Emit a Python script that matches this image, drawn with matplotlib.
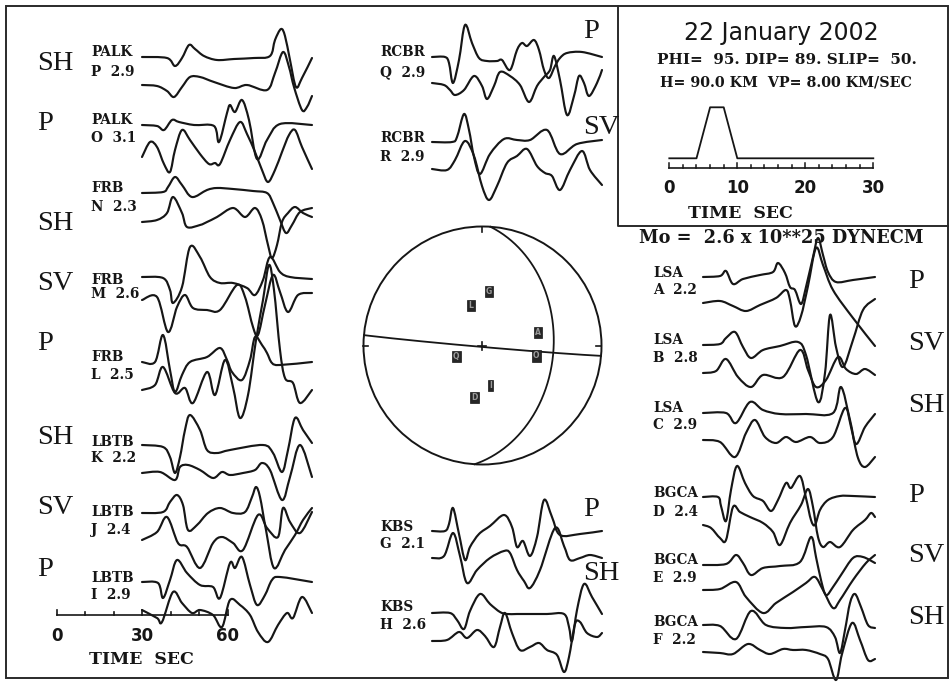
import numpy as np
import matplotlib.pyplot as plt
from matplotlib.path import Path
from matplotlib.patches import PathPatch, Rectangle, Circle

INK = '#161616'
W, H = 953, 682

# ---------------------------------------------------------------------------
# waveforms: (time, amplitude) pairs, time from trace start, amplitude up
# ---------------------------------------------------------------------------
PALK_P_OBS = [(0,0),(25,-1),(33,-9),(40,-1),(47,12),(53,8),(62,1),(75,-3),(92,-2),(112,-1),(128,1),(133,17),(139,28),(143,21),(148,-3),(154,-30),(160,-21),(170,-1)]
PALK_P_SYN = [(0,0),(15,-1),(25,-6),(32,-12),(40,-2),(48,8),(58,8),(72,3),(92,-3),(105,0),(125,-5),(133,12),(141,33),(147,18),(152,-2),(160,-25),(165,-22),(170,-11)]
PALK_O_OBS = [(0,0),(15,-1),(22,-5),(30,5),(37,3),(52,0),(72,-1),(77,-17),(85,12),(88,20),(93,13),(100,25),(107,5),(115,-34),(125,-15),(138,1),(170,0)]
PALK_O_SYN = [(0,0),(8,15),(15,10),(22,-7),(28,-15),(33,7),(40,27),(48,17),(58,3),(67,-7),(73,-6),(78,-7),(88,17),(98,35),(105,23),(113,5),(120,-13),(126,-25),(133,-13),(140,5),(147,22),(153,27),(160,10),(170,-12)]
FRB_N_OBS = [(0,0),(21,1),(26,6),(33,16),(40,8),(50,-4),(65,3),(75,5),(91,4),(111,2),(125,0),(131,-10),(138,-27),(144,-40),(150,-32),(158,-19),(170,-15)]
FRB_N_SYN = [(0,0),(15,2),(25,9),(31,25),(40,9),(45,-5),(58,-3),(65,0),(75,5),(91,14),(103,5),(113,14),(120,2),(126,-23),(130,-36),(135,-23),(140,0),(146,9),(153,15),(161,9),(170,5)]
FRB_M_OBS = [(0,0),(21,-1),(28,-13),(31,-26),(40,-10),(48,30),(58,20),(68,0),(78,-6),(91,-6),(105,-11),(113,-18),(121,-3),(128,20),(138,5),(148,0),(170,-2)]
FRB_M_SYN = [(0,0),(15,3),(26,-32),(35,-7),(43,5),(51,-8),(65,-10),(78,-10),(95,15),(103,3),(111,-27),(116,-35),(123,-5),(131,25),(138,8),(146,-12),(156,5),(170,7)]
FRB_L_OBS = [(0,0),(13,0),(21,27),(28,-8),(33,-30),(40,-13),(48,0),(65,5),(78,14),(85,2),(90,-10),(100,-18),(108,2),(113,25),(120,17),(125,9),(130,-1),(138,-3),(170,0)]
FRB_L_SYN = [(0,0),(13,5),(21,23),(33,-3),(43,2),(51,-13),(65,18),(73,-5),(83,30),(91,3),(98,-28),(106,-5),(114,50),(121,90),(127,125),(132,100),(138,40),(143,12),(151,7),(158,-13),(170,0)]
LBTB_K_OBS = [(0,0),(21,-2),(28,-12),(33,-28),(38,-12),(43,15),(48,30),(58,15),(65,-5),(75,-8),(88,-5),(121,0),(131,-8),(140,-27),(146,-5),(153,27),(161,15),(170,2)]
LBTB_K_SYN = [(0,0),(18,1),(33,-7),(38,6),(46,8),(58,3),(71,-5),(80,1),(88,-2),(101,0),(113,3),(120,10),(128,3),(140,-27),(148,-4),(158,28),(170,-4)]
LBTB_J_OBS = [(0,0),(21,1),(28,11),(35,18),(41,8),(46,-17),(55,-12),(66,0),(78,5),(91,0),(103,1),(110,16),(114,26),(118,16),(124,-17),(132,-55),(143,-37),(153,-22),(161,-7),(170,5)]
LBTB_J_SYN = [(0,0),(15,8),(25,23),(36,-3),(45,-7),(58,-28),(71,-3),(80,3),(91,-3),(101,-10),(116,25),(125,12),(136,3),(141,32),(148,18),(158,7),(170,28)]
LBTB_I_OBS = [(0,0),(16,-1),(21,-16),(28,2),(35,22),(45,9),(58,-3),(71,-5),(78,-16),(88,19),(93,14),(100,25),(108,-3),(115,-23),(123,-13),(130,2),(138,5),(170,0)]
LBTB_I_SYN = [(0,0),(15,-8),(20,-12),(31,18),(40,7),(50,-3),(58,0),(71,-5),(80,-17),(88,10),(98,5),(108,-5),(116,-22),(126,-32),(136,-15),(145,-3),(151,-8),(160,13),(170,-3)]

RCBR_Q_OBS = [(0,0),(13,0),(17,-6),(21,-26),(27,-3),(33,32),(40,14),(47,-1),(55,-4),(65,-4),(70,-3),(78,-13),(85,7),(90,14),(95,11),(102,17),(107,7),(112,-13),(117,-21),(123,-9),(128,-1),(135,4),(150,5),(170,0)]
RCBR_Q_SYN = [(0,0),(12,-2),(18,-7),(23,-12),(32,-7),(42,7),(50,-3),(55,-16),(62,-3),(68,11),(78,7),(88,-2),(97,-19),(105,-3),(112,6),(118,13),(122,27),(128,3),(135,-32),(142,-13),(147,7),(152,0),(157,-13),(165,0),(170,13)]
RCBR_R_OBS = [(0,0),(20,0),(25,5),(32,28),(37,12),(42,-15),(48,-32),(58,-12),(72,3),(85,2),(98,2),(115,12),(128,-12),(145,-2),(170,2)]
RCBR_R_SYN = [(0,0),(15,-1),(23,9),(33,28),(42,13),(50,-17),(57,-31),(65,-17),(75,6),(85,13),(95,20),(105,3),(113,-4),(120,-7),(128,-21),(138,-1),(150,18),(158,-1),(170,-16)]
KBS_G_OBS = [(0,0),(13,0),(17,7),(21,23),(27,-3),(33,-29),(38,-16),(47,-3),(58,5),(72,16),(80,4),(85,-16),(91,-10),(98,-25),(105,-6),(112,31),(120,14),(128,-4),(148,-3),(170,0)]
KBS_G_SYN = [(0,0),(12,2),(21,25),(28,2),(35,-25),(45,-12),(58,0),(72,7),(78,5),(85,-12),(92,-23),(98,-30),(108,-12),(123,30),(132,12),(138,-2),(148,0),(158,3),(170,0)]
KBS_H_OBS = [(0,0),(18,0),(25,-7),(32,-16),(38,2),(48,19),(58,9),(68,1),(75,-1),(85,-1),(98,-1),(115,-1),(132,-1),(137,-14),(140,-28),(145,3),(152,29),(160,16),(170,-1)]
KBS_H_SYN = [(0,0),(15,1),(27,9),(35,3),(45,11),(53,5),(62,-6),(68,14),(73,28),(80,8),(88,-9),(98,-6),(107,-2),(115,-9),(125,-14),(132,-31),(137,-16),(143,17),(148,19),(155,8),(165,4),(170,8)]

LSA_A_OBS = [(0,0),(17,1),(23,6),(30,-7),(40,-2),(57,2),(70,5),(75,14),(82,4),(87,-10),(92,-13),(98,-27),(103,-10),(110,20),(115,39),(120,22),(125,5),(133,-5),(150,-3),(172,0)]
LSA_A_SYN = [(0,0),(17,2),(30,-3),(43,-8),(57,-2),(73,5),(83,13),(87,3),(92,-23),(98,-13),(105,17),(113,55),(120,38),(130,13),(150,-15),(172,-43)]
LSA_B_OBS = [(0,0),(17,1),(23,7),(32,13),(40,-2),(48,-13),(60,-5),(77,-1),(95,3),(103,-10),(115,-57),(122,-28),(127,30),(133,-2),(140,-22),(150,5),(160,35),(172,46)]
LSA_B_SYN = [(0,0),(13,2),(23,14),(35,-4),(48,-14),(60,-2),(80,-4),(97,23),(105,3),(113,-14),(123,-7),(135,16),(143,4),(153,-1),(162,4),(172,-2)]
LSA_C_OBS = [(0,0),(23,0),(33,-10),(47,11),(60,3),(77,-1),(103,-1),(130,0),(138,26),(147,-7),(153,-31),(162,-14),(172,-1)]
LSA_C_SYN = [(0,0),(17,-2),(32,-17),(43,7),(52,20),(62,3),(73,-3),(83,3),(93,-2),(107,3),(117,-3),(130,3),(142,32),(148,13),(155,-18),(162,-27),(172,-17)]
BGCA_D_OBS = [(0,0),(15,0),(18,-9),(23,-24),(28,7),(34,31),(42,14),(50,1),(60,-4),(68,-14),(75,-3),(83,14),(88,9),(97,21),(103,-1),(108,-23),(112,-28),(117,-13),(125,-3),(137,1),(150,1),(172,0)]
BGCA_D_SYN = [(0,0),(8,-3),(17,-13),(23,-15),(30,18),(37,13),(47,8),(60,2),(70,-7),(77,-20),(87,2),(98,20),(105,36),(110,18),(115,-12),(120,-22),(127,-17),(137,-22),(150,-5),(162,5),(168,12),(172,8)]
BGCA_E_OBS = [(0,0),(23,1),(33,10),(40,2),(48,-10),(60,-3),(77,-1),(97,3),(108,28),(113,8),(118,-15),(123,-30),(130,-22),(138,-10),(150,7),(160,8),(172,2)]
BGCA_E_SYN = [(0,0),(17,1),(33,8),(43,-7),(60,-23),(73,-13),(90,-2),(103,7),(112,13),(120,0),(130,-18),(137,-10),(150,10),(163,27),(172,35)]
BGCA_F_OBS = [(0,0),(17,-1),(33,-14),(48,14),(63,0),(83,-3),(103,-2),(123,-2),(132,-12),(137,-28),(142,-5),(147,22),(152,31),(158,18),(165,0),(172,-3)]
BGCA_F_SYN = [(0,0),(17,-1),(30,-2),(45,8),(57,2),(67,-2),(80,3),(90,2),(103,2),(117,-2),(125,-7),(133,-28),(139,-2),(149,29),(157,12),(165,-8),(172,-7)]

# station name, component code + amplitude label
STATION = ['PALK', 'PALK', 'FRB', 'FRB', 'FRB', 'LBTB', 'LBTB', 'LBTB',
           'RCBR', 'RCBR', 'KBS', 'KBS',
           'LSA', 'LSA', 'LSA', 'BGCA', 'BGCA', 'BGCA']
CODE = ['P  2.9', 'O  3.1', 'N  2.3', 'M  2.6', 'L  2.5', 'K  2.2', 'J  2.4', 'I  2.9',
        'Q  2.9', 'R  2.9', 'G  2.1', 'H  2.6',
        'A  2.2', 'B  2.8', 'C  2.9', 'D  2.4', 'E  2.9', 'F  2.2']
OBS = [PALK_P_OBS, PALK_O_OBS, FRB_N_OBS, FRB_M_OBS, FRB_L_OBS, LBTB_K_OBS, LBTB_J_OBS, LBTB_I_OBS,
       RCBR_Q_OBS, RCBR_R_OBS, KBS_G_OBS, KBS_H_OBS,
       LSA_A_OBS, LSA_B_OBS, LSA_C_OBS, BGCA_D_OBS, BGCA_E_OBS, BGCA_F_OBS]
SYN = [PALK_P_SYN, PALK_O_SYN, FRB_N_SYN, FRB_M_SYN, FRB_L_SYN, LBTB_K_SYN, LBTB_J_SYN, LBTB_I_SYN,
       RCBR_Q_SYN, RCBR_R_SYN, KBS_G_SYN, KBS_H_SYN,
       LSA_A_SYN, LSA_B_SYN, LSA_C_SYN, BGCA_D_SYN, BGCA_E_SYN, BGCA_F_SYN]
PHASE = ['SH', 'P', 'SH', 'SV', 'P', 'SH', 'SV', 'P',
         'P', 'SV', 'P', 'SH',
         'P', 'SV', 'SH', 'P', 'SV', 'SH']

# focal mechanism
PHI, DIP, SLIP = 95., 89., 50.
DEPTH, VP = 90.0, 8.00
# P-wave stations on the focal sphere: letter, azimuth (deg), radial fraction
SPH_LETTER = ['G', 'L', 'A', 'O', 'Q', 'I', 'D']
SPH_AZ = [7, 344, 77, 101, 247, 169, 189]
SPH_R = [0.46, 0.35, 0.48, 0.46, 0.24, 0.34, 0.44]

# source time function (s, relative amplitude)
STF_T = [0, 4, 6, 8, 10, 30]
STF_A = [0, 0, 1, 1, 0, 0]

# ---------------------------------------------------------------------------
# layout (pixel units of the page)
# ---------------------------------------------------------------------------
# per column: x0 of traces, x of station label, x of phase label
COLX = {'L': (142, 91, 37), 'M': (432, 380, 583), 'R': (703, 653, 908)}
COL = ['L'] * 8 + ['M'] * 4 + ['R'] * 6
Y_OBS = [57, 125, 193, 277, 362, 445, 513, 582, 57, 142, 531, 613, 277, 345, 413, 497, 565, 625]
Y_SYN = [85, 157, 222, 300, 390, 473, 540, 610, 83, 169, 558, 641, 303, 373, 440, 525, 590, 652]
Y_NAME = [52, 120, 188, 280, 357, 442, 512, 578, 52, 138, 527, 607, 273, 340, 408, 493, 560, 622]
Y_CODE = [72, 138, 207, 294, 375, 458, 530, 595, 72, 157, 544, 625, 290, 358, 425, 512, 578, 640]
Y_PHASE = [63, 123, 223, 283, 343, 437, 507, 570, 32, 127, 509, 573, 281, 343, 405, 495, 555, 617]

fig = plt.figure(figsize=(W / 100, H / 100), dpi=100)
ax = fig.add_axes([0, 0, 1, 1])
ax.set_xlim(0, W)
ax.set_ylim(H, 0)
ax.axis('off')

LABEL_FONT = dict(family='DejaVu Serif', fontweight='bold', fontsize=9.8, color=INK)
PHASE_FONT = dict(family='Liberation Serif', fontsize=20.5, color=INK)
NUM_FONT = dict(family='DejaVu Sans', fontweight='bold', fontsize=12, color=INK)
SERIF_B = dict(family='DejaVu Serif', fontweight='bold', color=INK)


def smooth_path(xs, ys):
    """Catmull-Rom curve through the points, as a cubic Bezier path."""
    p = np.column_stack([xs, ys])
    q = np.vstack([p[0], p, p[-1]])
    verts = [p[0]]
    codes = [Path.MOVETO]
    for i in range(1, len(q) - 2):
        c1 = q[i] + (q[i + 1] - q[i - 1]) / 6.0
        c2 = q[i + 1] - (q[i + 2] - q[i]) / 6.0
        verts += [c1, c2, q[i + 1]]
        codes += [Path.CURVE4] * 3
    return Path(verts, codes)


def trace(x0, y0, pts):
    t, a = np.array(pts, float).T
    ax.add_patch(PathPatch(smooth_path(x0 + t, y0 - a), fill=False,
                           edgecolor=INK, lw=1.55, capstyle='round', joinstyle='round'))


for i in range(len(STATION)):
    x0, lx, px = COLX[COL[i]]
    trace(x0, Y_OBS[i], OBS[i])
    trace(x0, Y_SYN[i], SYN[i])
    ax.text(lx, Y_NAME[i], STATION[i], ha='left', va='center', **LABEL_FONT)
    ax.text(lx, Y_CODE[i], CODE[i], ha='left', va='center', **LABEL_FONT)
    ax.text(px, Y_PHASE[i], PHASE[i], ha='left', va='center', **PHASE_FONT)

# outer frame
ax.add_patch(Rectangle((6, 6), 942, 672, fill=False, edgecolor='#2a2a2a', lw=1.4))

# time scale, lower left (0..60 s)
SEC = 171 / 60.0
ax.plot([57, 57 + 60 * SEC], [615, 615], color=INK, lw=1.2)
for s in range(0, 61, 10):
    L = 5 if s % 30 == 0 else 3
    ax.plot([57 + s * SEC] * 2, [615, 615 - L], color=INK, lw=1.2)
for s in (0, 30, 60):
    ax.text(57 + s * SEC, 636, str(s), ha='center', va='center', **NUM_FONT)
ax.text(141, 660, 'TIME  SEC', ha='center', va='center', fontsize=12.5, **SERIF_B)

# ---------------------------------------------------------------------------
# inset box: event info and source time function
# ---------------------------------------------------------------------------
ax.plot([618, 618, 948], [6, 226, 226], color='#2a2a2a', lw=1.4)
ax.text(781, 33, '22 January 2002', ha='center', va='center',
        family='DejaVu Sans', fontsize=17, color=INK)
ax.text(787, 60, f'PHI= {PHI:3.0f}. DIP= {DIP:2.0f}. SLIP= {SLIP:3.0f}.',
        ha='center', va='center', fontsize=11, **SERIF_B)
ax.text(786, 83, f'H= {DEPTH:.1f} KM  VP= {VP:.2f} KM/SEC', ha='center', va='center',
        fontsize=10.3, **SERIF_B)

STF_SEC = 6.8
sx0, sy0, samp = 669.3, 158.3, 51
ax.plot(sx0 + np.array(STF_T) * STF_SEC, sy0 - np.array(STF_A) * samp, color=INK, lw=1.3)
ax.plot([sx0, sx0 + 30 * STF_SEC], [167.5, 167.5], color=INK, lw=1.2)
for s in range(0, 31, 2):
    L = 5 if s % 10 == 0 else 2.5
    ax.plot([sx0 + s * STF_SEC] * 2, [167.5, 167.5 - L], color=INK, lw=1.1)
for s in (0, 10, 20, 30):
    ax.text(sx0 + s * STF_SEC, 188, str(s), ha='center', va='center', **NUM_FONT)
ax.text(740, 213, 'TIME  SEC', ha='center', va='center', fontsize=12.5, **SERIF_B)
ax.text(781, 238, 'Mo =  2.6 x 10**25 DYNECM', ha='center', va='center',
        fontsize=12.8, **SERIF_B)

# ---------------------------------------------------------------------------
# focal sphere (lower hemisphere, equal area)
# ---------------------------------------------------------------------------
CX, CY, R = 482.5, 345.5, 119.0
ax.add_patch(Circle((CX, CY), R, fill=False, edgecolor=INK, lw=1.4))


def project(v):
    n, e, d = v
    theta = np.arccos(np.clip(d, -1, 1))
    r = np.sqrt(2) * np.sin(theta / 2)
    az = np.arctan2(e, n)
    return CX + R * r * np.sin(az), CY - R * r * np.cos(az)


def great_circle(normal):
    normal = np.asarray(normal, float)
    normal /= np.linalg.norm(normal)
    e1 = np.cross(normal, [0, 0, 1.0])
    e1 /= np.linalg.norm(e1)
    e2 = np.cross(normal, e1)
    if e2[2] < 0:
        e2 = -e2
    s = np.linspace(0, np.pi, 300)
    v = np.outer(np.cos(s), e1) + np.outer(np.sin(s), e2)
    return project(v.T)


phi, dl, lam = np.radians([PHI, DIP, SLIP])
n1 = [-np.sin(dl) * np.sin(phi), np.sin(dl) * np.cos(phi), -np.cos(dl)]
slip = [np.cos(lam) * np.cos(phi) + np.sin(lam) * np.cos(dl) * np.sin(phi),
        np.cos(lam) * np.sin(phi) - np.sin(lam) * np.cos(dl) * np.cos(phi),
        -np.sin(lam) * np.sin(dl)]
for nv in (n1, slip):
    gx, gy = great_circle(nv)
    ax.plot(gx, gy, color=INK, lw=1.3)

# compass ticks and centre cross
ax.plot([CX, CX], [CY - R, CY - R + 5], color=INK, lw=1.2)
ax.plot([CX - R, CX - R + 5], [CY, CY], color=INK, lw=1.2)
ax.plot([CX + R - 5, CX + R], [CY, CY], color=INK, lw=1.2)
ax.plot([CX - 4, CX + 4], [CY, CY], color=INK, lw=1.2)
ax.plot([CX, CX], [CY - 4, CY + 4], color=INK, lw=1.2)

for lt, az, rr in zip(SPH_LETTER, SPH_AZ, SPH_R):
    a = np.radians(az)
    ax.text(CX + R * rr * np.sin(a), CY - R * rr * np.cos(a), lt, ha='center', va='center',
            family='DejaVu Sans', fontweight='heavy', fontsize=5.5, color='#9a9a9a',
            bbox=dict(boxstyle='square,pad=0.15', fc='#262626', ec=INK, lw=0.5))

fig.savefig('out.png', dpi=100)
